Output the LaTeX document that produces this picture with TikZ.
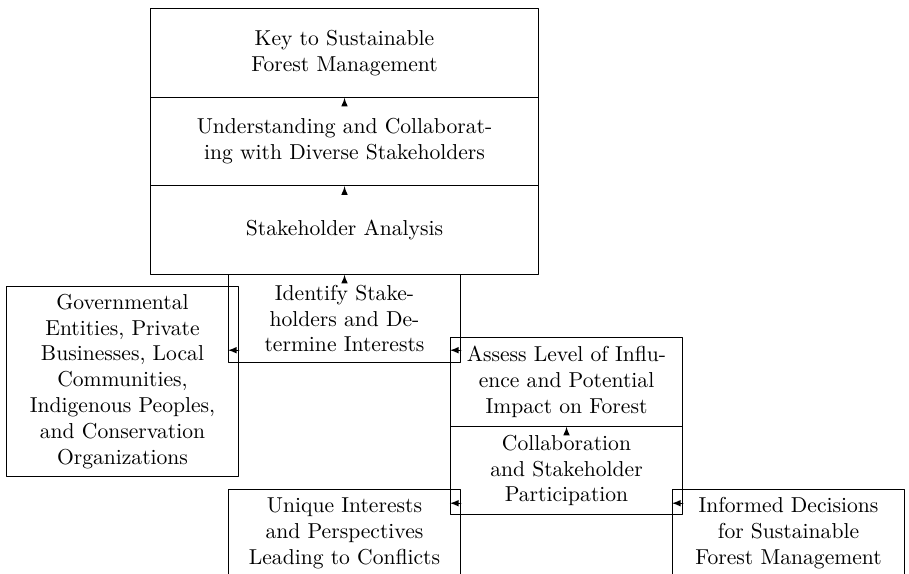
\documentclass[tikz,border=0pt]{standalone}
\usetikzlibrary{arrows}

\begin{document}
\begin{tikzpicture}[x=0.463pt,y=-0.463pt,line cap=round,line join=round,
    bigbox/.style={draw,align=center,text width=6cm,minimum width=179.7pt,minimum height=41pt},
    box/.style={draw,align=center,text width=3.5cm,minimum width=107.5pt,minimum height=41pt},
    arr/.style={-latex}]
    \useasboundingbox (0,0) rectangle (909,573);
    \clip (0,0) rectangle (909,573);
    % upper stack
    \node[bigbox] (key) at (344.5,53) {Key to Sustainable Forest Management};
    \node[bigbox] (und) at (344.5,141.5) {Understanding and Collaborating with Diverse Stakeholders};
    \node[bigbox] (stk) at (344.5,230) {Stakeholder Analysis};
    \node[box] (ident) at (344.5,318.5) {Identify Stakeholders and Determine Interests};
    \node[box] (gov) at (122.5,381.5) {Governmental Entities, Private Businesses, Local Communities, Indigenous Peoples, and Conservation Organizations};
    \node[box] (assess) at (566.5,382) {Assess Level of Influence and Potential Impact on Forest};
    \node[box] (collab) at (566.5,470.5) {Collaboration and Stakeholder Participation};
    \node[box] (unique) at (344.5,533.5) {Unique Interests and Perspectives Leading to Conflicts};
    \node[box] (informed) at (788.5,533.5) {Informed Decisions for Sustainable Forest Management};
    % arrows
    \draw[arr] ([yshift=-3pt]und.north) -- (key.south);
    \draw[arr] ([yshift=-3pt]stk.north) -- (und.south);
    \draw[arr] ([yshift=-3pt]ident.north) -- (stk.south);
    \draw[arr] ([yshift=-3pt]collab.north) -- (assess.south);
    \path (ident.south) ++(0,-13) coordinate (r1);
    \path (collab.south) ++(0,-12) coordinate (r2);
    \draw[arr] (gov.east |- r1) -- (ident.west |- r1);
    \draw[arr] (ident.east |- r1) -- (assess.west |- r1);
    \draw[arr] (unique.east |- r2) -- (collab.west |- r2);
    \draw[arr] (collab.east |- r2) -- (informed.west |- r2);
\end{tikzpicture}
\end{document}
